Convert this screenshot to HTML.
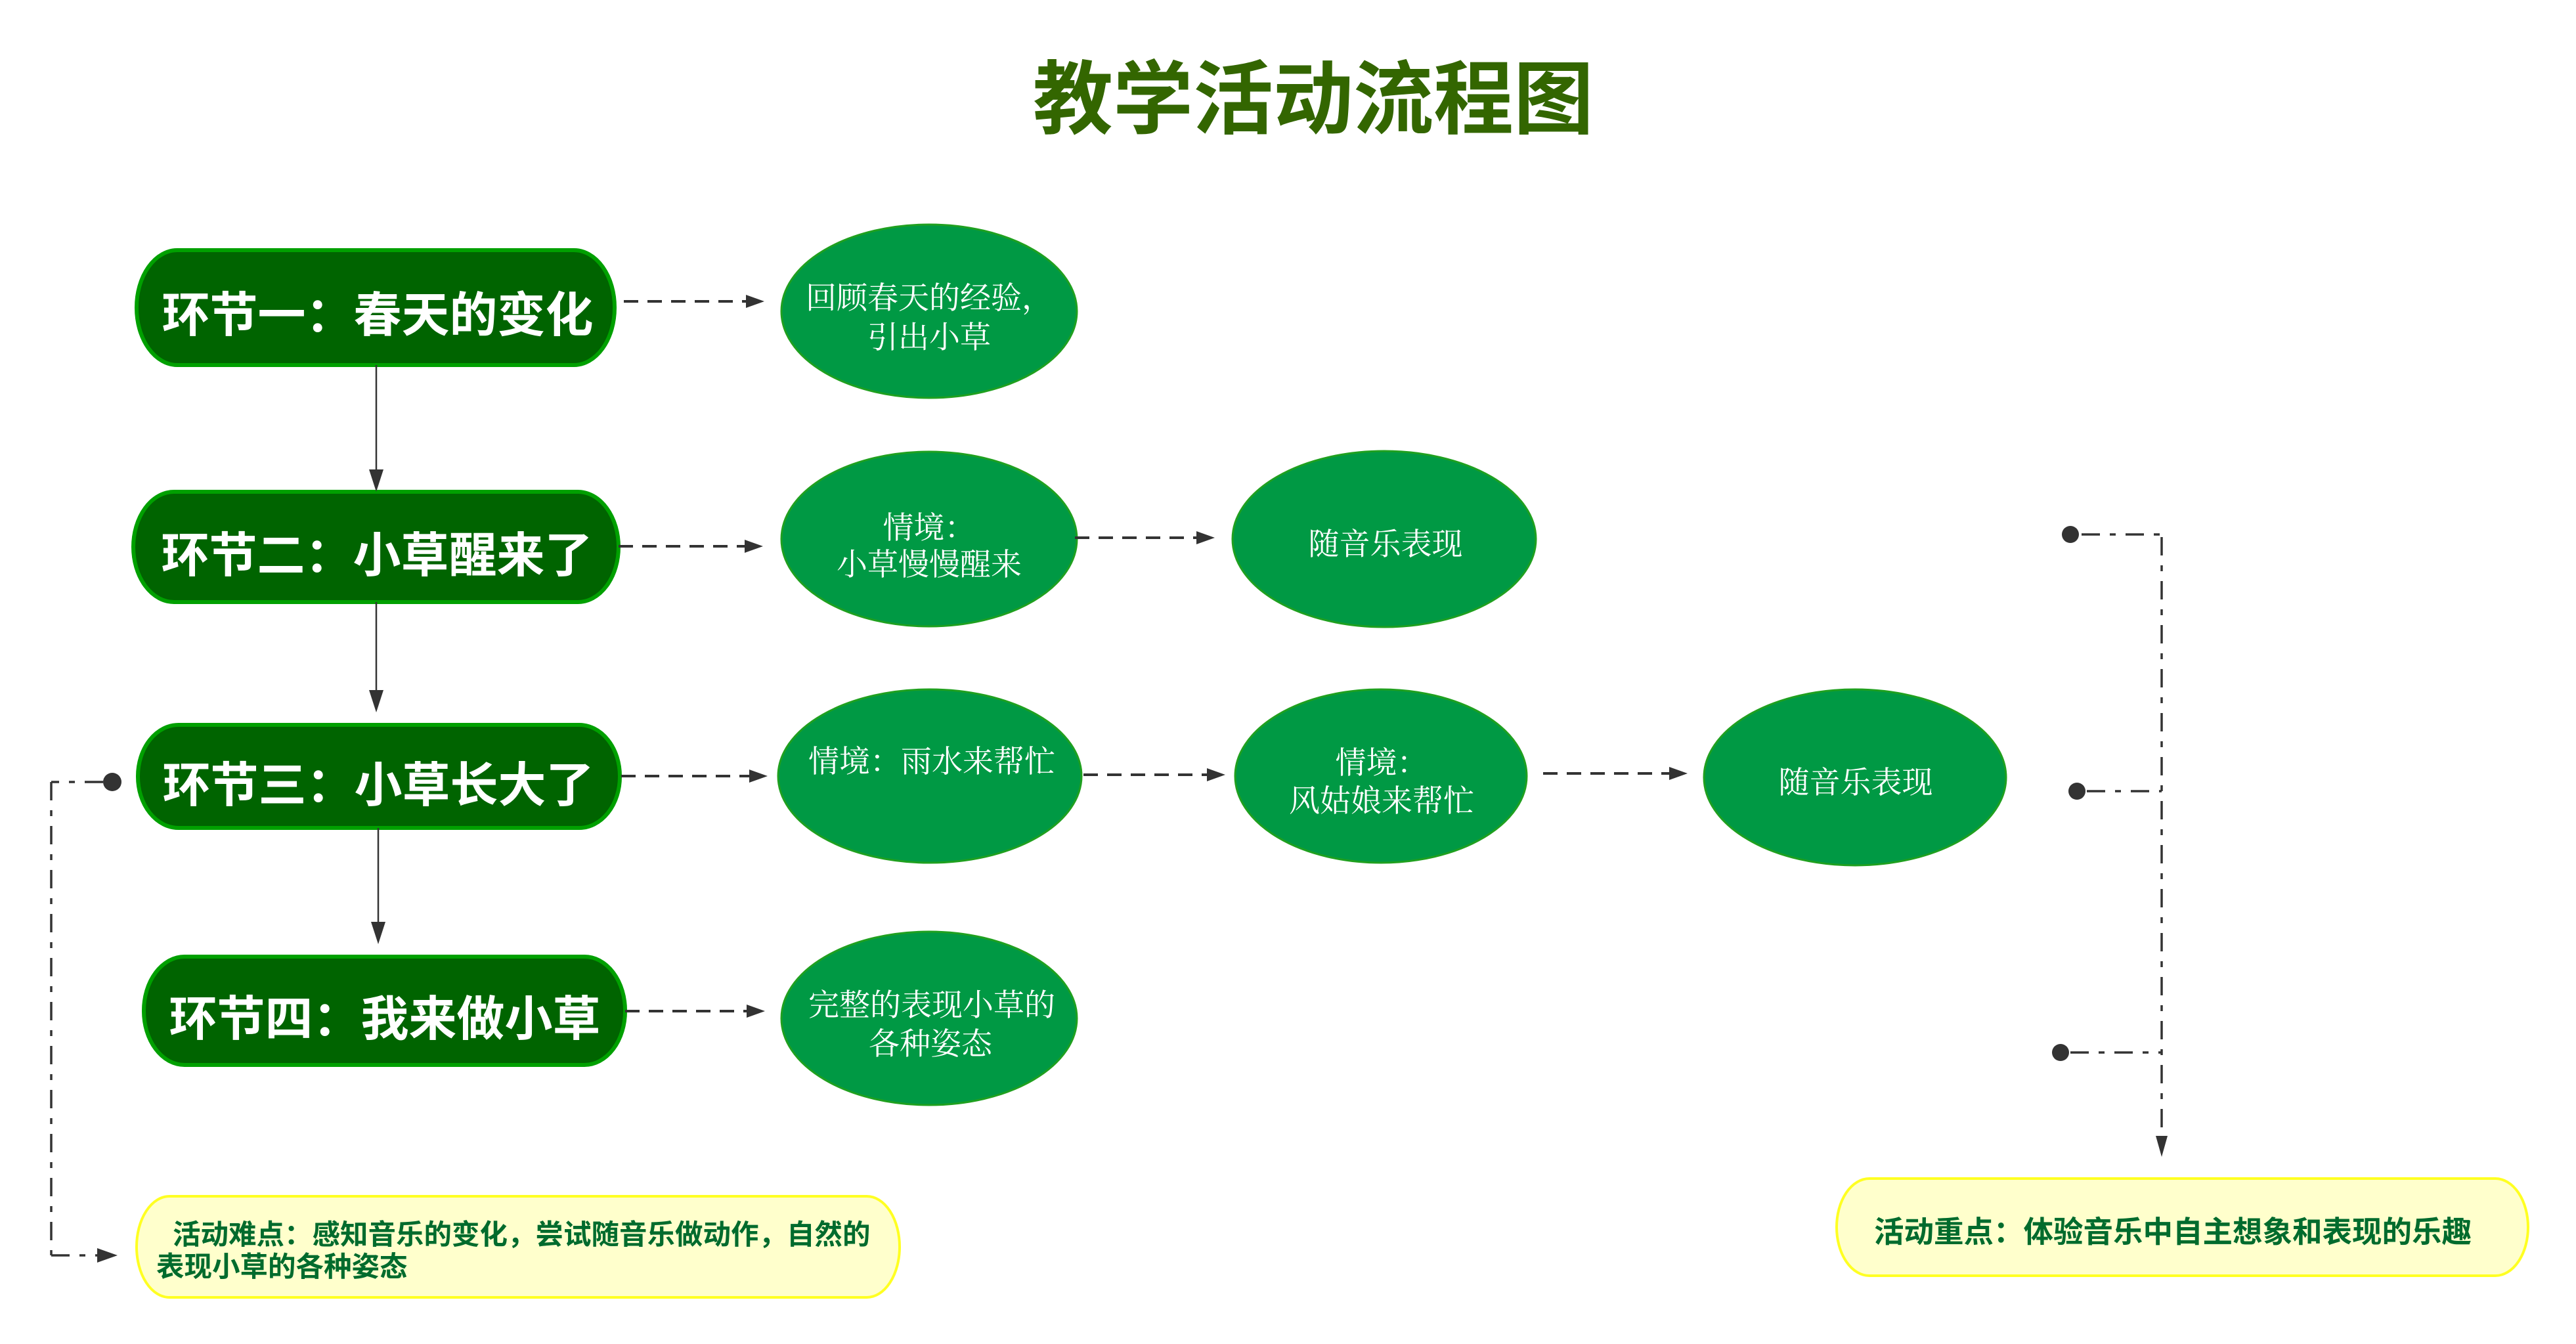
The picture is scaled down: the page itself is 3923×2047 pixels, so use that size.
<!DOCTYPE html>
<html>
<head>
<meta charset="utf-8">
<style>
  html, body { margin: 0; padding: 0; background: #ffffff; }
  body { width: 3923px; height: 2047px; overflow: hidden; }
  svg { display: block; }
  .sans { font-family: "Liberation Sans", "Noto Sans CJK SC", sans-serif; }
  .serif { font-family: "Liberation Serif", "Noto Serif CJK SC", serif; }
</style>
</head>
<body>
<svg width="3923" height="2047" viewBox="0 0 3923 2047" xmlns="http://www.w3.org/2000/svg">
  <rect x="0" y="0" width="3923" height="2047" fill="#ffffff"/>

  <!-- Title -->
  <text class="sans" x="2000" y="194" font-size="122" font-weight="bold" fill="#336600" text-anchor="middle">教学活动流程图</text>

  <!-- Main nodes -->
  <g fill="#006400" stroke="#00a000" stroke-width="6">
    <rect x="208" y="381" width="728" height="175" rx="62" ry="87"/>
    <rect x="203" y="749" width="739" height="168" rx="62" ry="84"/>
    <rect x="210" y="1104" width="734" height="157" rx="62" ry="78"/>
    <rect x="219" y="1457" width="733" height="165" rx="62" ry="82"/>
  </g>
  <g class="sans" font-size="73" font-weight="bold" fill="#ffffff" text-anchor="middle">
    <text x="575" y="505">环节一：春天的变化</text>
    <text x="574" y="871">环节二：小草醒来了</text>
    <text x="576" y="1221">环节三：小草长大了</text>
    <text x="586" y="1577">环节四：我来做小草</text>
  </g>

  <!-- Ellipses -->
  <g fill="#009944" stroke="#1fa01f" stroke-width="3">
    <ellipse cx="1415" cy="474" rx="225" ry="132"/>
    <ellipse cx="1415" cy="821" rx="225" ry="133"/>
    <ellipse cx="2108" cy="821" rx="231" ry="134"/>
    <ellipse cx="1416" cy="1182" rx="231" ry="132"/>
    <ellipse cx="2103" cy="1182" rx="222" ry="132"/>
    <ellipse cx="2825" cy="1184" rx="230" ry="134"/>
    <ellipse cx="1415" cy="1551" rx="225" ry="132"/>
  </g>
  <g class="serif" font-size="47" fill="#ffffff" text-anchor="middle">
    <text x="1415" y="470">回顾春天的经验，</text>
    <text x="1415" y="530">引出小草</text>
    <text x="1415" y="820">情境：</text>
    <text x="1415" y="876">小草慢慢醒来</text>
    <text x="2110" y="845">随音乐表现</text>
    <text x="1419" y="1176">情境：雨水来帮忙</text>
    <text x="2104" y="1178">情境：</text>
    <text x="2104" y="1236">风姑娘来帮忙</text>
    <text x="2826" y="1208">随音乐表现</text>
    <text x="1419" y="1547">完整的表现小草的</text>
    <text x="1417" y="1606">各种姿态</text>
  </g>

  <!-- Solid vertical arrows -->
  <g stroke="#333333" stroke-width="2.5" fill="none">
    <line x1="573" y1="556" x2="573" y2="725"/>
    <line x1="573" y1="917" x2="573" y2="1060"/>
    <line x1="576" y1="1261" x2="576" y2="1414"/>
  </g>
  <g fill="#333333">
    <polygon points="562,715 584,715 573,749"/>
    <polygon points="562,1051 584,1051 573,1085"/>
    <polygon points="565,1404 587,1404 576,1438"/>
  </g>

  <!-- Dashed arrows -->
  <g stroke="#333333" stroke-width="4" fill="none" stroke-dasharray="22 14">
    <line x1="950" y1="459" x2="1138" y2="459"/>
    <line x1="942" y1="832" x2="1136" y2="832"/>
    <line x1="1637" y1="819" x2="1824" y2="819"/>
    <line x1="946" y1="1182" x2="1142" y2="1182"/>
    <line x1="1650" y1="1180" x2="1840" y2="1180"/>
    <line x1="2350" y1="1178" x2="2544" y2="1178"/>
    <line x1="952" y1="1540" x2="1138" y2="1540"/>
  </g>
  <g fill="#333333">
    <polygon points="1136,449 1136,469 1164,459"/>
    <polygon points="1134,822 1134,842 1162,832"/>
    <polygon points="1822,809 1822,829 1850,819"/>
    <polygon points="1141,1172 1141,1192 1169,1182"/>
    <polygon points="1838,1170 1838,1190 1866,1180"/>
    <polygon points="2542,1168 2542,1188 2570,1178"/>
    <polygon points="1137,1530 1137,1550 1165,1540"/>
  </g>

  <!-- Dash-dot connectors (right) -->
  <g stroke="#333333" stroke-width="3.5" fill="none" stroke-dasharray="28 15 9 15">
    <line x1="3170" y1="814" x2="3292" y2="814"/>
    <line x1="3178" y1="1205" x2="3292" y2="1205"/>
    <line x1="3153" y1="1603" x2="3292" y2="1603"/>
    <line x1="3292" y1="818" x2="3292" y2="1735"/>
  </g>
  <g fill="#333333">
    <circle cx="3153" cy="814" r="13"/>
    <circle cx="3163" cy="1205" r="13"/>
    <circle cx="3138" cy="1603" r="13"/>
    <polygon points="3283,1730 3301,1730 3292,1762"/>
  </g>

  <!-- Dash-dot connector (left) -->
  <g stroke="#333333" stroke-width="3.5" fill="none" stroke-dasharray="28 15 9 15">
    <line x1="157" y1="1191" x2="78" y2="1191"/>
    <line x1="78" y1="1191" x2="78" y2="1912"/>
    <line x1="78" y1="1912" x2="150" y2="1912"/>
  </g>
  <g fill="#333333">
    <circle cx="171" cy="1191" r="14"/>
    <polygon points="148,1901 148,1923 179,1912"/>
  </g>

  <!-- Yellow boxes -->
  <g fill="#ffffcc" stroke="#ffff22" stroke-width="4">
    <rect x="208" y="1822" width="1162" height="154" rx="50" ry="77"/>
    <rect x="2797" y="1795" width="1053" height="148" rx="50" ry="74"/>
  </g>
  <g class="sans" font-weight="bold" fill="#006b2d">
    <text x="263" y="1895" font-size="42.5">活动难点：感知音乐的变化，尝试随音乐做动作，自然的</text>
    <text x="238" y="1944" font-size="42.5">表现小草的各种姿态</text>
    <text x="2854" y="1892" font-size="45.5">活动重点：体验音乐中自主想象和表现的乐趣</text>
  </g>
</svg>
</body>
</html>
